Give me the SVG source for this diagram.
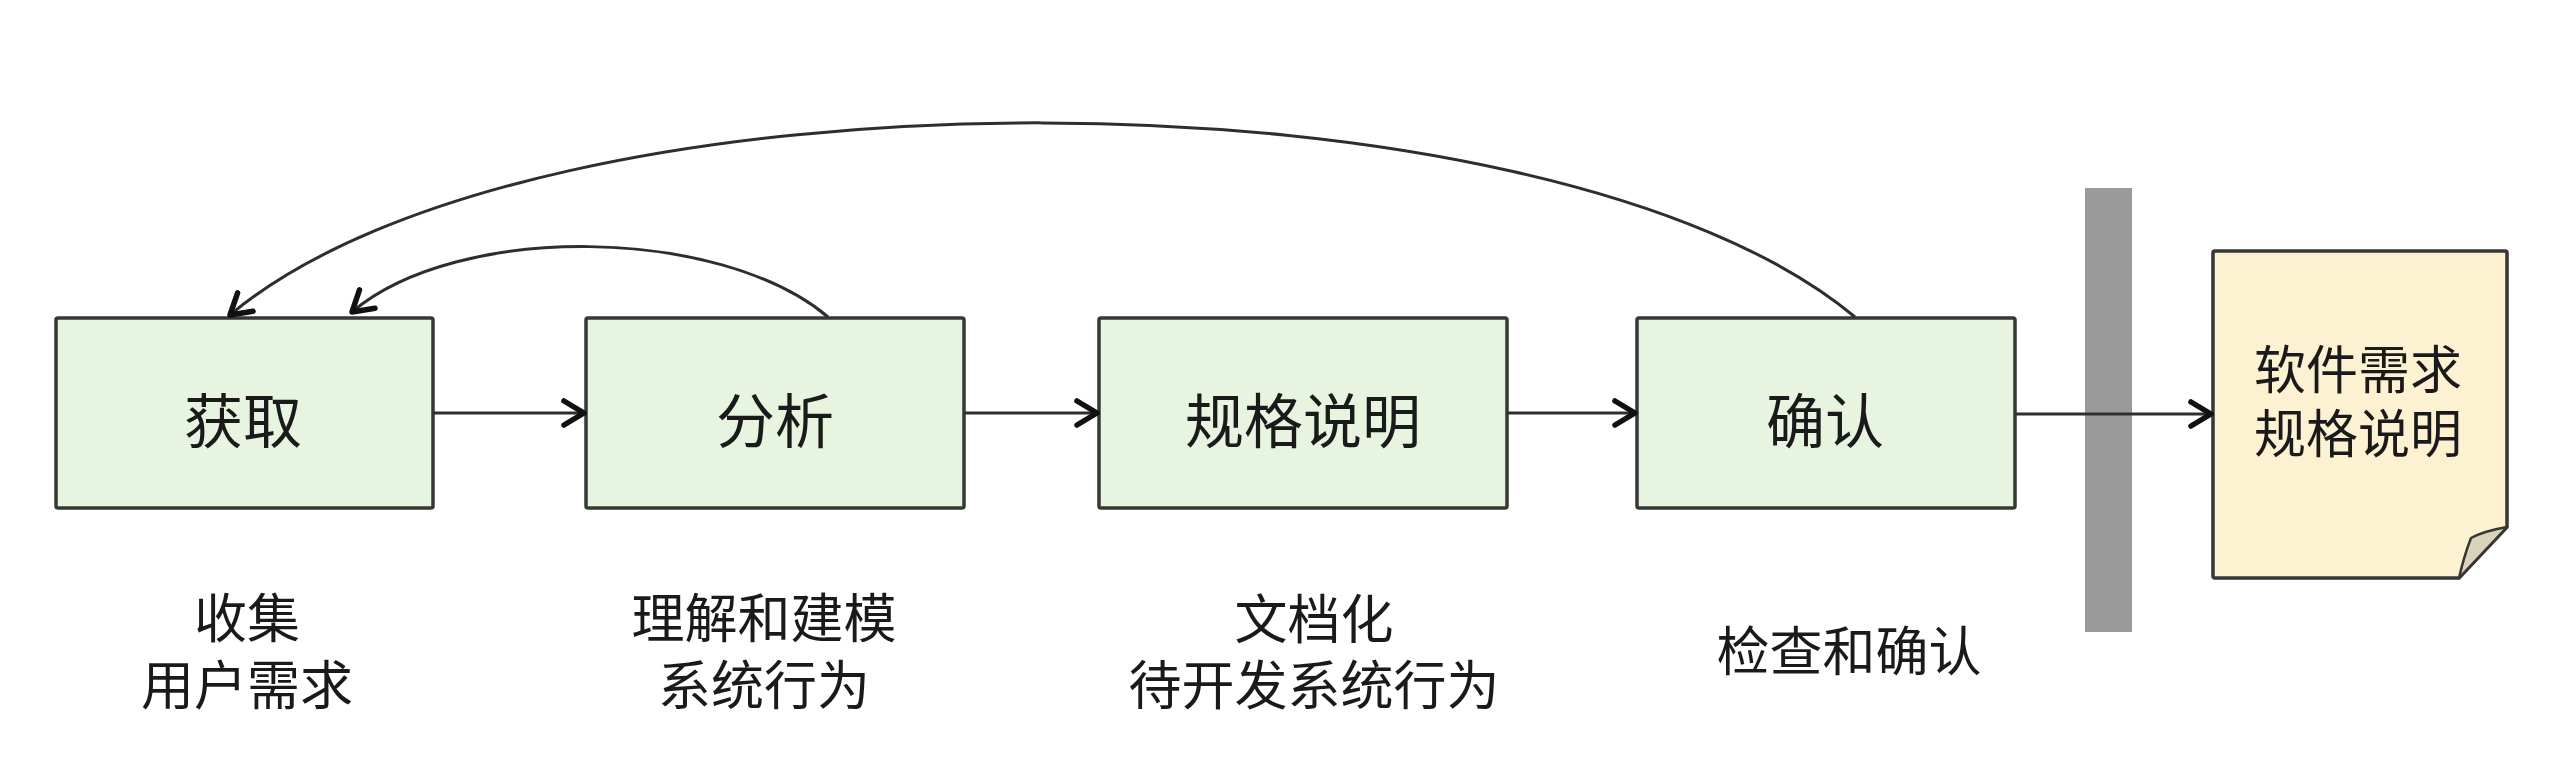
<svg xmlns="http://www.w3.org/2000/svg" width="2550" height="772" viewBox="0 0 2550 772">
  <style>
    .box { fill: #e6f4e0; stroke: #343934; stroke-width: 3.5; }
    .doc { fill: #fcf2d2; stroke: #363636; stroke-width: 3.5; stroke-linejoin: round; }
    .fold { fill: #d9d3bb; stroke: #363636; stroke-width: 2.5; stroke-linejoin: round; }
    .bar { fill: #9a9a9a; }
    .t { font-family: "Noto Sans CJK SC", "Noto Sans", sans-serif; fill: #1a1a1a; text-anchor: middle; dominant-baseline: central; }
    .big { font-size: 59px; }
    .mid { font-size: 52px; }
    .lab { font-size: 53px; }
    .line { fill: none; stroke: #2e2e2e; stroke-width: 3; }
  </style>
  <defs>
    <marker id="arr" markerUnits="userSpaceOnUse" viewBox="0 0 26 30" markerWidth="26" markerHeight="30" refX="23" refY="15" orient="auto">
      <path d="M3,3 L23,15 L3,27" fill="none" stroke="#111" stroke-width="5.5" stroke-linecap="round" stroke-linejoin="round"/>
    </marker>
  </defs>

  <rect class="bar" x="2085" y="188" width="47" height="444"/>

  <g id="node-huoqu">
    <rect class="box" x="56" y="318" width="377" height="190" rx="2"/>
    <text class="t big" x="243" y="417">获取</text>
  </g>
  <g id="node-fenxi">
    <rect class="box" x="586" y="318" width="378" height="190" rx="2"/>
    <text class="t big" x="775" y="417">分析</text>
  </g>
  <g id="node-guige">
    <rect class="box" x="1099" y="318" width="408" height="190" rx="2"/>
    <text class="t big" x="1303" y="417">规格说明</text>
  </g>
  <g id="node-queren">
    <rect class="box" x="1637" y="318" width="378" height="190" rx="2"/>
    <text class="t big" x="1825" y="417">确认</text>
  </g>
  <g id="node-doc">
    <path class="doc" d="M2213,253 Q2213,251 2215,251 L2505,251 Q2507,251 2507,253 L2507,527 L2459,578 L2215,578 Q2213,578 2213,576 Z"/>
    <path class="fold" d="M2507,527 Q2484,531 2471,538 Q2464,556 2459,578 Z"/>
    <text class="t mid"><tspan x="2358" y="366">软件需求</tspan><tspan x="2358" y="430">规格说明</tspan></text>
  </g>

  <g id="labels">
    <text class="t lab"><tspan x="247" y="615">收集</tspan><tspan x="247" y="682">用户需求</tspan></text>
    <text class="t lab"><tspan x="764" y="615">理解和建模</tspan><tspan x="764" y="682">系统行为</tspan></text>
    <text class="t lab"><tspan x="1314" y="616">文档化</tspan><tspan x="1314" y="682">待开发系统行为</tspan></text>
    <text class="t lab" x="1849" y="648">检查和确认</text>
  </g>

  <g id="connectors">
    <line class="line" x1="433" y1="413" x2="584" y2="413" marker-end="url(#arr)"/>
    <line class="line" x1="964" y1="413" x2="1097" y2="413" marker-end="url(#arr)"/>
    <line class="line" x1="1507" y1="413" x2="1635" y2="413" marker-end="url(#arr)"/>
    <line class="line" x1="2015" y1="414" x2="2211" y2="414" marker-end="url(#arr)"/>
    <path class="line" d="M1855,317 C1547,59 536,58 230,315" marker-end="url(#arr)"/>
    <path class="line" d="M828,317 C720,226 458,222 352,312" marker-end="url(#arr)"/>
  </g>
</svg>
